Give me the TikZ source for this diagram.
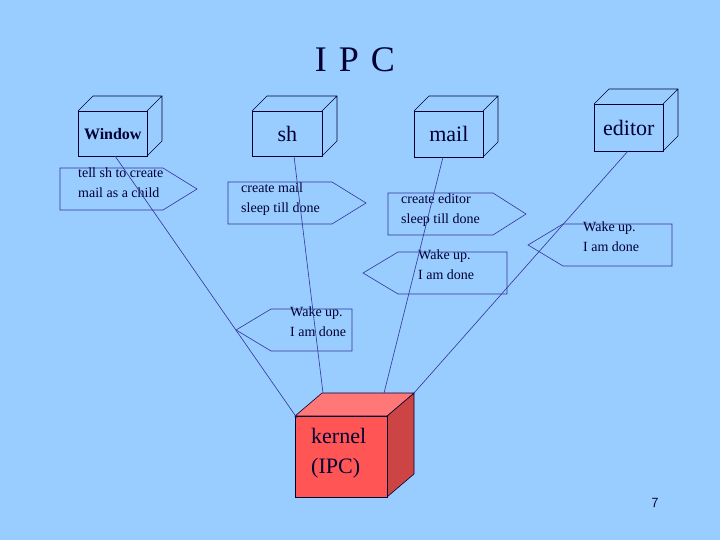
\documentclass[tikz,border=0pt]{standalone}
\usepackage{fontspec}
\setmainfont{Liberation Serif}
\definecolor{bg}{HTML}{99CCFF}
\definecolor{ink}{HTML}{000033}
\definecolor{ln}{HTML}{333399}
\definecolor{kred}{HTML}{FF5555}
\definecolor{kside}{HTML}{CC4444}
\begin{document}
\begin{tikzpicture}[x=1pt,y=-1pt,
  cube/.style={draw=ink,line width=0.6pt,inner sep=0pt,text=ink,font=\fontsize{22}{24}\selectfont},
  call/.style={draw=ln,line width=0.6pt},
  ctext/.style={text=ink,font=\fontsize{14}{20}\selectfont,align=left,anchor=north west,inner sep=0pt},
  conn/.style={draw=ln,line width=0.6pt}]
\fill[bg] (0,0) rectangle (720,540);
\useasboundingbox (0,0) rectangle (720,540);
% callouts
\draw[call] (60,168) -- (163,168) -- (197,189) -- (163,210) -- (60,210) -- cycle;
\node[ctext] (t1) at (78,168) {tell sh to create\\mail as a child};
\draw[call] (228,182) -- (332,182) -- (366,203) -- (332,224) -- (228,224) -- cycle;
\node[ctext] (t2) at (241,183) {create mail\\sleep till  done};
\draw[call] (388,193) -- (493,193) -- (526,214) -- (493,235) -- (388,235) -- cycle;
\node[ctext] (t3) at (401,194) {create editor\\sleep till  done};
\draw[call] (363,273) -- (398,252) -- (507,252) -- (507,294) -- (398,294) -- cycle;
\node[ctext] (t4) at (418,250) {Wake up.\\I am done};
\draw[call] (528,245) -- (563,224) -- (672,224) -- (672,266) -- (563,266) -- cycle;
\node[ctext] (t5) at (583,222) {Wake up.\\I am done};
\draw[call] (236,330) -- (271,309) -- (352,309) -- (352,351) -- (271,351) -- cycle;
\node[ctext] (t6) at (290,307) {Wake up.\\I am done};
% cubes
\newcommand\cubeat[6]{% name, x1,y1,x2,y2, label
  \draw[draw=ink,line width=0.6pt] (#2,#3) -- (#2+15,#3-15) -- (#4+15,#3-15) -- (#4+15,#5-15) -- (#4,#5) (#4,#3) -- (#4+15,#3-15);
  \node[cube,minimum width=#4-#2,minimum height=#5-#3,anchor=north west] (#1) at (#2,#3) {#6};}
\cubeat{win}{78}{111}{147}{156}{\fontsize{16}{18}\selectfont\bfseries Window}
\cubeat{sh}{252}{111}{322}{156}{sh}
\cubeat{mail}{414}{111}{483}{157}{mail}
\cubeat{ed}{594}{104}{663}{151}{editor}
% kernel
\fill[kside,draw=ink,line width=0.6pt] (387,416) -- (414,393) -- (414,474) -- (387,497) -- cycle;
\fill[kred!80!white,draw=ink,line width=0.6pt] (295,416) -- (322,393) -- (414,393) -- (387,416) -- cycle;
\node[draw=ink,fill=kred,line width=0.6pt,minimum width=92pt,minimum height=81pt,anchor=north west,inner sep=0pt] (k) at (295,416) {};
\node[text=ink,font=\fontsize{22}{30}\selectfont,align=left,anchor=north west,inner sep=0pt] (kt) at (311,428) {kernel\\(IPC)};
% connectors
\coordinate (kw) at (297,418);
\coordinate (ks) at (323,393);
\coordinate (km) at (384,393);
\coordinate (ke) at (414,393);
\draw[conn] (win.south) ++(0,0) coordinate (ws) (115,156) -- (kw);
\draw[conn] (sh.south) ++(0,0) (294,156) -- (ks);
\draw[conn] (443,157) -- (km);
\draw[conn] (628,151) -- (ke);
% title and page
\node[text=ink,font=\fontsize{36}{40}\selectfont] (title) at (355,60) {I\,\,P\,\,C};
\node[text=ink,font=\sffamily\fontsize{14}{16}\selectfont] (pg) at (655,503) {7};
\end{tikzpicture}
\end{document}
